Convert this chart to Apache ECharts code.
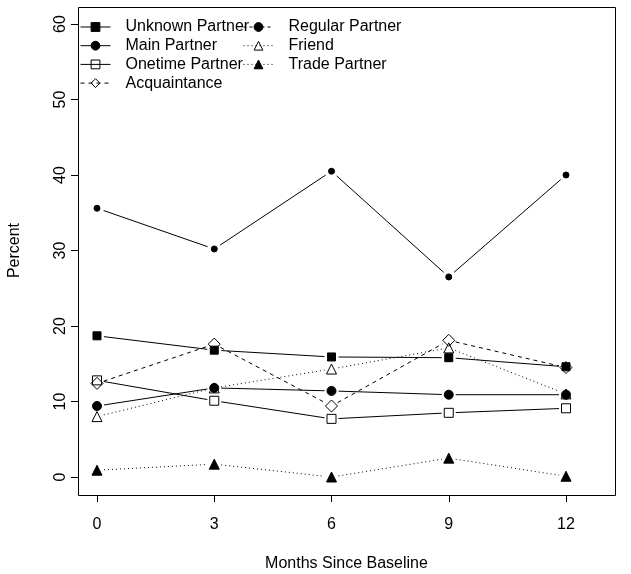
<!DOCTYPE html>
<html>
<head>
<meta charset="utf-8">
<script src="https://cdn.jsdelivr.net/npm/echarts@6/dist/echarts.min.js"></script>
<style>html,body{margin:0;padding:0;background:#fff;}#c{width:631px;height:574px;}</style>
</head>
<body>
<div id="c"></div>
<script>
const months = [0, 3, 6, 9, 12];
const xTicks = [0, 3, 6, 9, 12];
const yTicks = [0, 10, 20, 30, 40, 50, 60];
const unknownPartner = [18.7, 16.8, 15.9, 15.8, 14.6];
const mainPartner = [35.6, 30.2, 40.5, 26.5, 40.0];
const onetimePartner = [12.8, 10.1, 7.7, 8.5, 9.1];
const acquaintance = [12.4, 17.6, 9.4, 18.1, 14.5];
const regularPartner = [9.4, 11.8, 11.4, 10.9, 10.9];
const friend = [8.0, 11.8, 14.3, 17.1, 11.0];
const tradePartner = [0.9, 1.7, 0.0, 2.5, 0.1];

const SOLID = null, DASHED = [4, 4], DOTTED = [1, 3];
const FONT = 'Liberation Sans, Arial, Helvetica, sans-serif';

const defs = [
  {name: 'Unknown Partner', data: unknownPartner, symbol: 'rect', size: 8, fill: '#000', dash: SOLID},
  {name: 'Main Partner', data: mainPartner, symbol: 'circle', size: 6, fill: '#000', dash: SOLID},
  {name: 'Onetime Partner', data: onetimePartner, symbol: 'rect', size: 9, fill: 'rgba(255,255,255,0)', dash: SOLID},
  {name: 'Acquaintance', data: acquaintance, symbol: 'diamond', size: 12, fill: 'rgba(255,255,255,0)', dash: DASHED},
  {name: 'Regular Partner', data: regularPartner, symbol: 'circle', size: 9, fill: '#000', dash: SOLID, legendDash: [3, 3]},
  {name: 'Friend', data: friend, symbol: 'triangle', size: 10, fill: 'rgba(255,255,255,0)', dash: DOTTED},
  {name: 'Trade Partner', data: tradePartner, symbol: 'triangle', size: 10, fill: '#000', dash: DOTTED}
];

function gapRenderer(dash) {
  return function (params, api) {
    const p0 = api.coord([api.value(0), api.value(1)]);
    const p1 = api.coord([api.value(2), api.value(3)]);
    const dx = p1[0] - p0[0], dy = p1[1] - p0[1];
    const len = Math.sqrt(dx * dx + dy * dy);
    const g = 7;
    if (len <= 2 * g) return null;
    const ux = dx / len, uy = dy / len;
    return {
      type: 'line',
      silent: true,
      shape: {x1: p0[0] + ux * g, y1: p0[1] + uy * g, x2: p1[0] - ux * g, y2: p1[1] - uy * g},
      style: {stroke: '#000', lineWidth: 1, lineDash: dash}
    };
  };
}

const series = [];
defs.forEach(function (d) {
  const segs = [];
  for (let i = 0; i < months.length - 1; i++) {
    segs.push([months[i], d.data[i], months[i + 1], d.data[i + 1]]);
  }
  series.push({
    type: 'custom',
    name: d.name + ' segments',
    renderItem: gapRenderer(d.dash),
    encode: {x: [0, 2], y: [1, 3]},
    data: segs,
    clip: false,
    silent: true
  });
});
defs.forEach(function (d) {
  series.push({
    type: 'line',
    name: d.name,
    data: months.map(function (m, i) { return [m, d.data[i]]; }),
    symbol: d.symbol,
    symbolSize: d.size,
    showAllSymbol: true,
    clip: false,
    animation: false,
    itemStyle: {color: d.fill, borderColor: '#000', borderWidth: 1},
    lineStyle: {color: '#000', width: 1, opacity: 0, type: d.legendDash || d.dash || 'solid'},
    emphasis: {disabled: true}
  });
});

const legendCommon = {
  orient: 'vertical',
  top: 19,
  padding: 0,
  itemWidth: 30,
  itemHeight: 11,
  itemGap: 2.7,
  selectedMode: false,
  textStyle: {fontFamily: FONT, fontSize: 16, color: '#000', padding: [0, 0, 0, 10]},
  lineStyle: {opacity: 1, color: '#000', width: 1},
  itemStyle: {borderColor: '#000', borderWidth: 1}
};

const chart = echarts.init(document.getElementById('c'), null, {renderer: 'canvas'});
chart.setOption({
  animation: false,
  backgroundColor: '#fff',
  grid: {left: 97, right: 65, top: 24, bottom: 97, containLabel: false, outerBoundsMode: 'none'},
  xAxis: {
    type: 'value', min: xTicks[0], max: xTicks[xTicks.length - 1], interval: 3,
    offset: 18,
    name: 'Months Since Baseline', nameLocation: 'middle', nameGap: 61,
    nameTextStyle: {fontFamily: FONT, fontSize: 16, color: '#000', padding: [0, 0, 0, 30]},
    axisLine: {show: true, onZero: false, lineStyle: {color: '#000', width: 1}},
    axisTick: {show: true, length: 7, lineStyle: {color: '#000', width: 1}},
    axisLabel: {fontFamily: FONT, fontSize: 16, color: '#000', margin: 22},
    splitLine: {show: false}
  },
  yAxis: {
    type: 'value', min: yTicks[0], max: yTicks[yTicks.length - 1], interval: 10,
    offset: 19,
    name: 'Percent', nameLocation: 'middle', nameGap: 55, nameRotate: 90,
    nameTextStyle: {fontFamily: FONT, fontSize: 16, color: '#000'},
    axisLine: {show: true, onZero: false, lineStyle: {color: '#000', width: 1}},
    axisTick: {show: true, length: 7, lineStyle: {color: '#000', width: 1}},
    axisLabel: {fontFamily: FONT, fontSize: 16, color: '#000', margin: 9, rotate: 90},
    splitLine: {show: false}
  },
  legend: [
    Object.assign({}, legendCommon, {left: 80, data: ['Unknown Partner', 'Main Partner', 'Onetime Partner', 'Acquaintance']}),
    Object.assign({}, legendCommon, {left: 243, data: ['Regular Partner', 'Friend', 'Trade Partner']})
  ],
  graphic: [{
    type: 'rect', silent: true, z: 100,
    shape: {x: 78.5, y: 7.5, width: 537, height: 488},
    style: {fill: 'none', stroke: '#000', lineWidth: 1}
  }],
  series: series
});
</script>
</body>
</html>
